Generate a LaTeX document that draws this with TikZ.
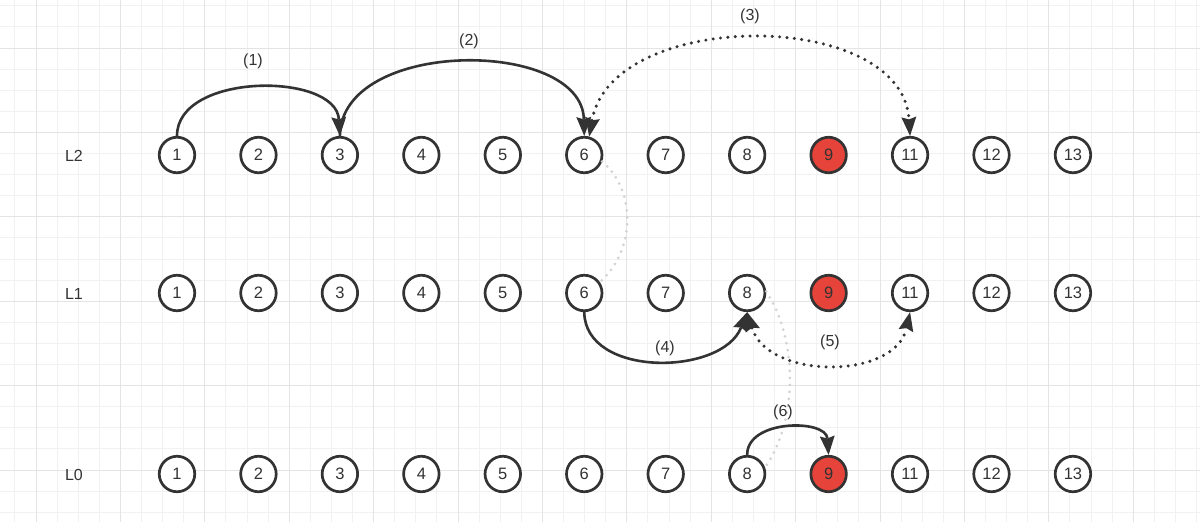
\documentclass[tikz,border=0pt]{standalone}
\usepackage{fontspec}
\setmainfont{Liberation Sans}
\usetikzlibrary{arrows.meta}
\definecolor{ink}{HTML}{333333}
\definecolor{gridminor}{HTML}{F1F1F1}
\definecolor{gridmajor}{HTML}{E4E4E4}
\definecolor{hotred}{HTML}{E6433A}
\definecolor{ghost}{HTML}{D2D2D2}
\tikzset{
  cnode/.style={circle,draw=ink,line width=2.7pt,minimum size=35.5pt,inner sep=0pt,fill=white,text=ink,font=\fontsize{16.5}{16.5}\selectfont},
  hot/.style={cnode,fill=hotred},
  rowlab/.style={text=ink,font=\fontsize{16}{16}\selectfont},
  steplab/.style={text=ink,font=\fontsize{16}{16}\selectfont},
  headtip/.tip={Stealth[length=19pt,width=15pt,inset=2.5pt,line width=0pt]},
  jump/.style={draw=ink,line width=2.6pt,-headtip},
  probe/.style={draw=ink,line width=3.4pt,line cap=round,dash pattern=on 0pt off 7.4pt,headtip-headtip},
  link/.style={draw=ghost,line width=3pt,line cap=round,dash pattern=on 0pt off 7pt}
}
\begin{document}
\begin{tikzpicture}[x=1pt,y=-1pt]
\useasboundingbox (0,0) rectangle (1200,522);
\fill[white] (0,0) rectangle (1200,522);
% grid
\foreach \i in {-1,...,55}{
  \draw[gridminor,line width=1pt] ({36+21.1*\i},0) -- ({36+21.1*\i},522);
}
\foreach \j in {-2,...,22}{
  \draw[gridminor,line width=1pt] (0,{48+21.1*\j}) -- (1200,{48+21.1*\j});
}
\foreach \i in {0,...,13}{
  \draw[gridmajor,line width=1pt] ({36+84.4*\i},0) -- ({36+84.4*\i},522);
}
\foreach \j in {0,...,5}{
  \draw[gridmajor,line width=1pt] (0,{48+84.4*\j}) -- (1200,{48+84.4*\j});
}
% row labels
\node[rowlab] (lab2) at (74,156) {L2};
\node[rowlab] (lab1) at (74,294) {L1};
\node[rowlab] (lab0) at (74,475) {L0};
% nodes
\foreach \lv/\y in {2/155,1/293,0/474}{
  \foreach \v/\k in {1/0,2/1,3/2,4/3,5/4,6/5,7/6,8/7,11/9,12/10,13/11}{
    \node[cnode] (n\lv-\v) at ({177+81.45*\k},\y) {\v};
  }
  \node[hot] (n\lv-9) at ({177+81.45*8},\y) {9};
}
% ghost links between levels
\draw[link] (n2-6.-20) .. controls (636,190) and (636,250) .. (n1-6.35);
\draw[link] (n1-8.5) .. controls (798,340) and (798,420) .. (n0-8.20);
% jumps
\draw[jump] (n2-1.north) .. controls (177,72) and (336,72) .. (n2-3.north);
\draw[jump] (n2-3.north) .. controls (341,38) and (582,38) .. (n2-6.north);
\draw[probe] (n2-6.75) .. controls (612,8) and (902,8) .. (n2-11.north);
\draw[jump] (n1-6.south) .. controls (585,378) and (722,376) .. (n1-8.south);
\draw[probe] (n1-8.south) .. controls (768,380) and (895,380) .. (n1-11.south);
\draw[jump] (n0-8.north) .. controls (747,419) and (826,419) .. (n0-9.north);
% step labels
\node[steplab] (s1) at (253,61) {(1)};
\node[steplab] (s2) at (469,41) {(2)};
\node[steplab] (s3) at (750,16) {(3)};
\node[steplab] (s4) at (665,348) {(4)};
\node[steplab] (s5) at (830,342) {(5)};
\node[steplab] (s6) at (783,412) {(6)};
\end{tikzpicture}
\end{document}
